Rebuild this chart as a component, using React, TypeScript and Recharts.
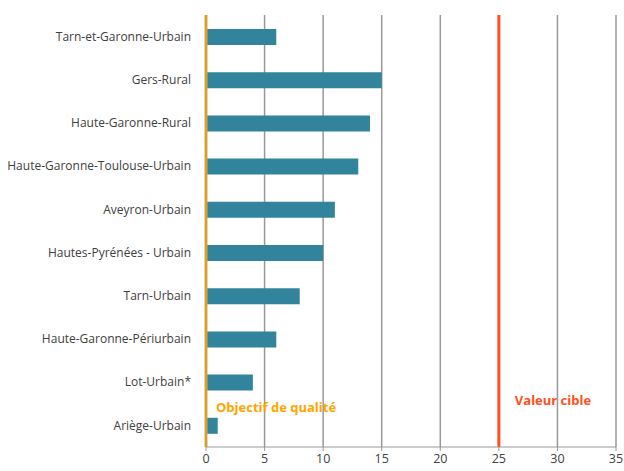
import { BarChart, Bar, XAxis, YAxis, CartesianGrid, ReferenceLine } from 'recharts'

// Stations (top to bottom) and their values
const stations = [
  'Tarn-et-Garonne-Urbain',
  'Gers-Rural',
  'Haute-Garonne-Rural',
  'Haute-Garonne-Toulouse-Urbain',
  'Aveyron-Urbain',
  'Hautes-Pyrénées - Urbain',
  'Tarn-Urbain',
  'Haute-Garonne-Périurbain',
  'Lot-Urbain*',
  'Ariège-Urbain',
]
const values = [6, 15, 14, 13, 11, 10, 8, 6, 4, 1]
const xTicks = [0, 5, 10, 15, 20, 25, 30, 35]
const objectifQualite = 0
const valeurCible = 25

const FONT = 'Open Sans, sans-serif'

const chartData = stations.map((name, i) => ({ name, value: values[i] }))

function RefLabel(props: any) {
  const { viewBox, text, color, dx, dy } = props
  if (!viewBox) return null
  return (
    <text
      x={viewBox.x + dx}
      y={viewBox.y + viewBox.height + dy}
      fill={color}
      fontFamily={FONT}
      fontSize={13}
      fontWeight="bold"
    >
      {text}
    </text>
  )
}

export default function App() {
  return (
    <div style={{ position: 'absolute', left: 0, top: 0, width: 624, height: 471, background: '#fff' }}>
      <BarChart
        width={624}
        height={471}
        data={chartData}
        layout="vertical"
        margin={{ top: 15, right: 8, bottom: 2, left: 0 }}
      >
        <CartesianGrid horizontal={false} stroke="#999999" strokeWidth={1.5} />
        <XAxis
          type="number"
          domain={[0, 35]}
          ticks={xTicks}
          height={22}
          stroke="#999999"
          tick={{ fill: '#404040', fontSize: 12.5, fontFamily: FONT }}
          tickSize={4}
          tickMargin={3}
        />
        <YAxis
          type="category"
          dataKey="name"
          width={206}
          stroke="#999999"
          tickLine={false}
          tickMargin={9}
          interval={0}
          tick={{ fill: '#404040', fontSize: 12, fontFamily: FONT }}
        />
        <Bar dataKey="value" fill="#31849b" barSize={16} isAnimationActive={false} />
        <ReferenceLine
          x={objectifQualite}
          stroke="#ffa500"
          strokeWidth={3}
          label={<RefLabel text="Objectif de qualité" color="#ffa500" dx={10} dy={-35} />}
        />
        <ReferenceLine
          x={valeurCible}
          stroke="#ff4f1a"
          strokeWidth={3}
          label={<RefLabel text="Valeur cible" color="#ff4f1a" dx={16} dy={-42} />}
        />
      </BarChart>
    </div>
  )
}
